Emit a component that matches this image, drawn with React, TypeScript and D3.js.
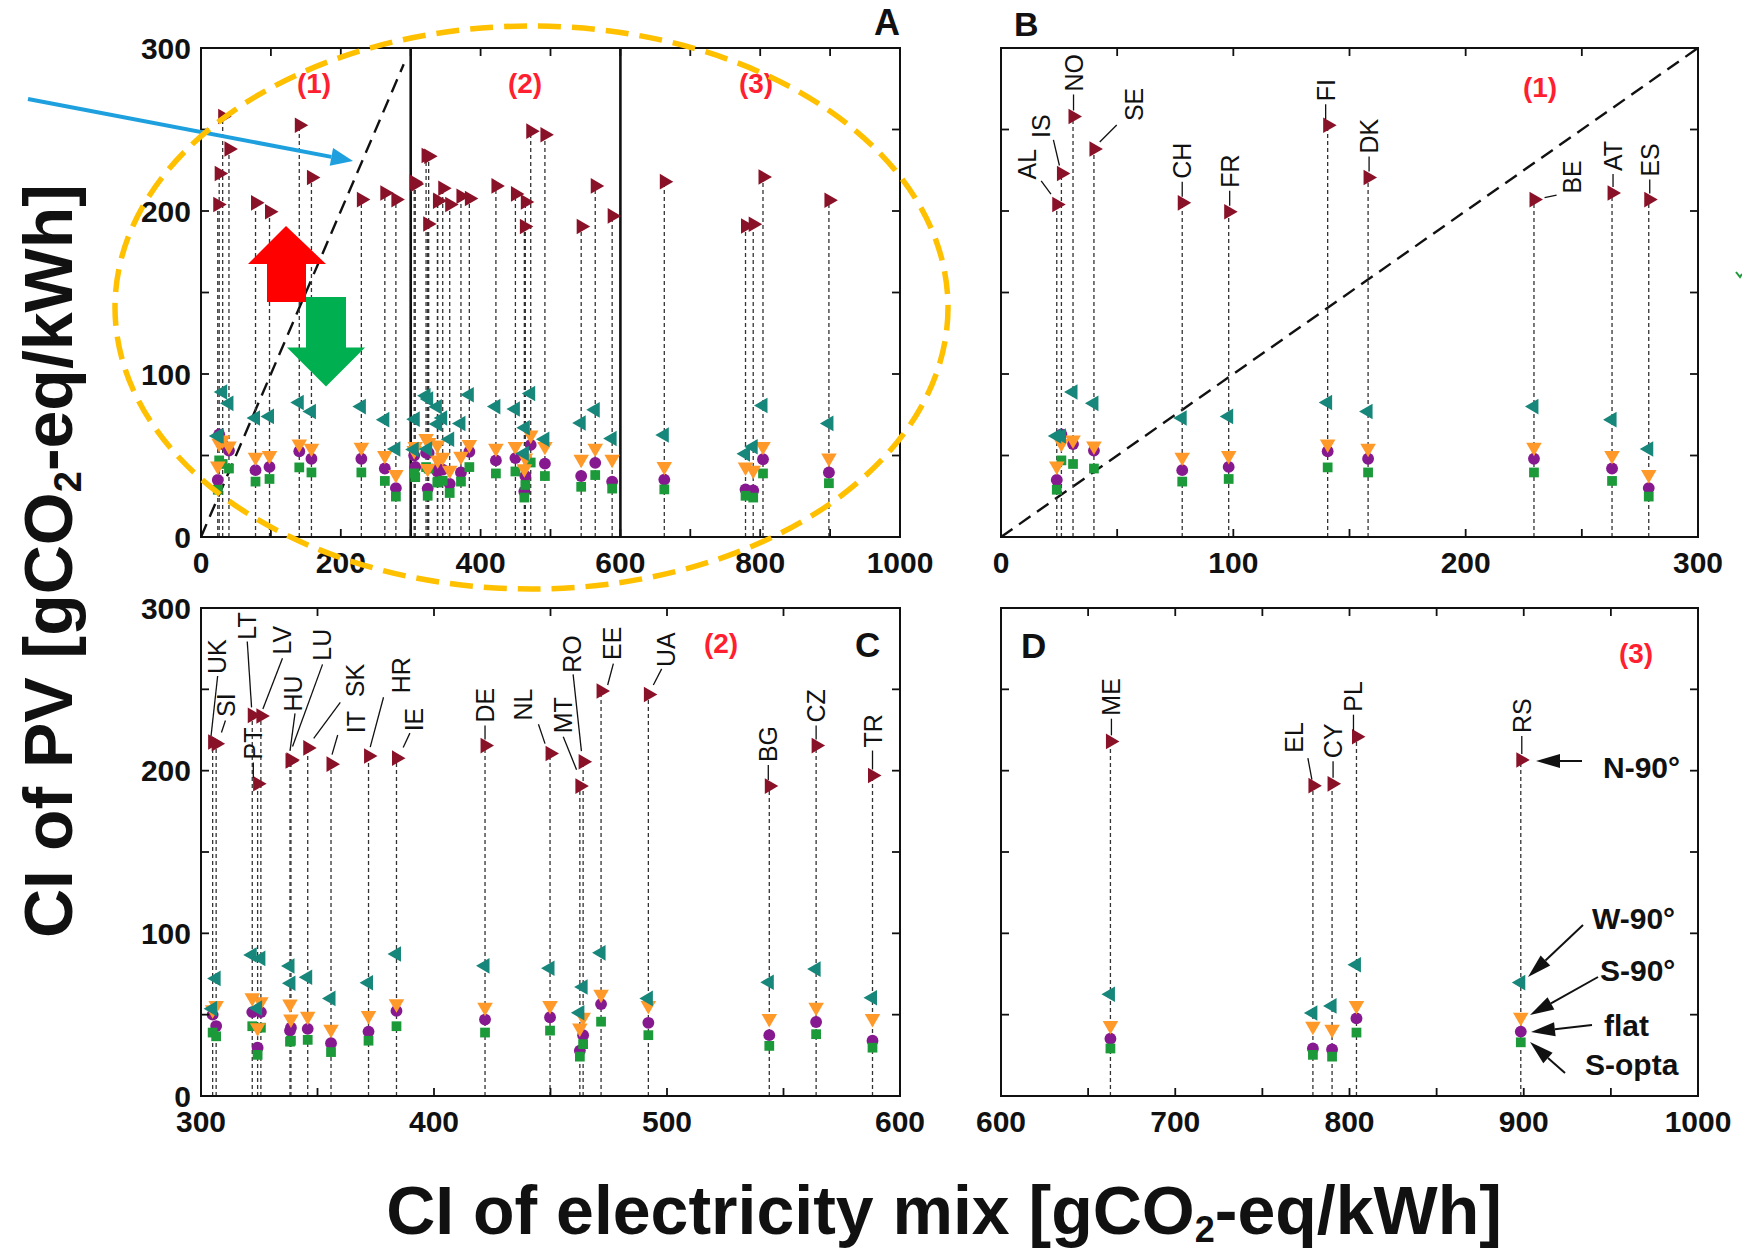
import React from "react";
import * as d3 from "d3";

// ---------------- DATA ----------------
const countries = ["AL","IS","NO","SE","CH","FR","FI","DK","BE","AT","ES",
  "UK","SI","LT","PT","LV","HU","LU","SK","IT","HR","IE","DE","NL","MT","RO","EE","UA","BG","CZ","TR",
  "ME","EL","CY","PL","RS"];
// CI of electricity mix [gCO2-eq/kWh]
const ciMix = [24,26,31,40,78,98,140.6,158,229.4,263,278.8,
  305,306.5,322,324.3,325.7,338.2,338.6,345.8,355.8,371.9,383.9,421.9,449.8,462.6,464,471.7,492,543.9,564,588.2,
  662.8,779,790,804,898.3];
// CI of PV for each orientation
const ciN90 = [204,223,258,238,205,199.5,252.6,220.5,207,211,207,
  217.6,216.5,234,192,233.6,206,206.5,214,204,209,207.7,215.4,210.5,190.5,205.5,249,246.8,190.5,215.4,197,
  218,190.8,191.9,220.9,206.6];
const ciW90 = [62,62,89,82,73,74,82.5,77,80,72,54,
  53.7,72.3,86.7,54,84.6,79.9,69.3,73,60,69.6,87.3,80,78.5,51.2,67,88,60,69.9,78,60.4,
  62.6,51,55.4,80.7,69.7];
const ciS90 = [43.5,57.5,59.5,55.8,49,50,57,54.5,55,50,38.4,
  53,55.6,60.4,42,58,56.5,47.3,49,41,49.5,56.7,54.5,55.6,41.8,48.4,62.6,55.6,47.7,54.5,47.7,
  43.3,42.9,41,55.6,48.4];
const ciFlat = [35,63,57,53,41,43,52.6,48,48,42,30,
  50,43,51.6,29.7,51.6,40.2,42,41.3,32.5,39.6,52.3,47,48.4,27.9,37.4,56.5,45,37.4,45.5,34,
  35.2,29.2,28.6,47.7,39.6];
const ciSOpta = [29,47,44.8,42,34,35.6,42.7,39.6,39.6,34.4,24.8,
  39,36.7,42.9,25.3,42,33.4,34,34.5,27,34,42.9,39,40.2,24.2,31.9,45.7,37.4,30.8,38,29.7,
  29.2,25.3,24.2,39,33];
const seriesNames = ["N-90°","W-90°","S-90°","flat","S-opta"];
const regionBounds = [0, 300, 600, 1000];
const regionNames = ["(1)","(2)","(3)"];
const yTickValues = [0, 100, 200, 300];

// ---------------- STYLE / LAYOUT ----------------
const FONT = "'Liberation Sans', Arial, Helvetica, sans-serif";
const seriesStyle: Record<string, { color: string; shape: string }> = {
  "N-90°": { color: "#8a1228", shape: "right" },
  "W-90°": { color: "#16877a", shape: "left" },
  "S-90°": { color: "#ff9a2a", shape: "down" },
  "flat": { color: "#86198f", shape: "circle" },
  "S-opta": { color: "#1c9a3a", shape: "square" },
};
const seriesValues: Record<string, number[]> = {
  [seriesNames[0]]: ciN90, [seriesNames[1]]: ciW90, [seriesNames[2]]: ciS90, [seriesNames[3]]: ciFlat, [seriesNames[4]]: ciSOpta,
};
const drawOrder = ["flat", "S-opta", "S-90°", "W-90°", "N-90°"];

const panels = [
  { id: "A", left: 201, right: 900, top: 48, bottom: 537, domain: [0, 1000], major: 200, minor: 100, yLabels: true, lo: 0, hi: 1001, labels: false },
  { id: "B", left: 1001, right: 1698, top: 48, bottom: 537, domain: [0, 300], major: 100, minor: 50, yLabels: false, lo: 0, hi: 300, labels: true },
  { id: "C", left: 201, right: 900, top: 608, bottom: 1096, domain: [300, 600], major: 100, minor: 50, yLabels: true, lo: 300, hi: 600, labels: true },
  { id: "D", left: 1001, right: 1698, top: 608, bottom: 1096, domain: [600, 1000], major: 100, minor: 50, yLabels: false, lo: 600, hi: 1001, labels: true },
];

// label offsets relative to the N-90° marker (px)
const labelLayout: Record<string, { tx: number; ty: number; leader?: number[] }> = {
  AL: { tx: -30, ty: -25, leader: [-15.6, -23.7, -5.8, -10.3] },
  IS: { tx: -20, ty: -35.6, leader: [-8, -33.7, -2, -8] },
  NO: { tx: 0.5, ty: -25 },
  SE: { tx: 40, ty: -28, leader: [22.8, -24, 5.8, -7] },
  CH: { tx: 0, ty: -24 },
  FR: { tx: 1, ty: -24 },
  FI: { tx: -2, ty: -24 },
  DK: { tx: 1, ty: -24 },
  BE: { tx: 37.6, ty: -6, leader: [10.6, -2, 22.6, -4.5] },
  AT: { tx: 1, ty: -22 },
  ES: { tx: 1, ty: -23 },
  UK: { tx: 4.7, ty: -68, leader: [5, -66, -1.6, -6] },
  SI: { tx: 10.3, ty: -26.8, leader: [9.3, -23.3, 5.3, -11.4] },
  LT: { tx: -5.7, ty: -75.7, leader: [-5, -73.9, -0.7, -8] },
  PT: { tx: -4.3, ty: -24.3 },
  LV: { tx: 21.3, ty: -61.4, leader: [21.6, -57.8, 2, -7] },
  HU: { tx: 3.3, ty: -49.4, leader: [5, -47.5, 0, -10] },
  LU: { tx: 31.3, ty: -99.4, leader: [31.6, -95.7, 1.6, -13.5] },
  SK: { tx: 47.6, ty: -50.6, leader: [32.6, -45.6, 6, -9.6] },
  IT: { tx: 25, ty: -31, leader: [6.7, -29.2, 1, -9.6] },
  HR: { tx: 32.5, ty: -62.8, leader: [15, -58.8, 1.7, -8.9] },
  IE: { tx: 17.7, ty: -26.8, leader: [13.4, -25, 6.7, -10.7] },
  DE: { tx: 0, ty: -23 },
  NL: { tx: -27.3, ty: -33, leader: [-11.6, -29.4, -5, -10] },
  MT: { tx: -17.3, ty: -52.8, leader: [-16.6, -49.4, -3.3, -16.4] },
  RO: { tx: -11, ty: -89, leader: [-10, -87.4, -1.7, -10.6] },
  EE: { tx: 11.3, ty: -31, leader: [12.3, -27.4, 6.6, -6] },
  UA: { tx: 17.5, ty: -27.5, leader: [13.3, -25.7, 5, -9.6] },
  BG: { tx: -1, ty: -24 },
  CZ: { tx: 0, ty: -23 },
  TR: { tx: 0, ty: -28 },
  ME: { tx: 1, ty: -25.7 },
  EL: { tx: -18.6, ty: -33, leader: [-5, -27.4, -1, -6] },
  CY: { tx: 1, ty: -25.7 },
  PL: { tx: -3, ty: -25 },
  RS: { tx: 1, ty: -27 },
};

const regionLabelPos: Record<string, { x: number; y: number; text: string }[]> = {
  A: [ { x: 314, y: 93, text: regionNames[0] }, { x: 525, y: 93, text: regionNames[1] }, { x: 756, y: 93, text: regionNames[2] } ],
  B: [ { x: 1540, y: 97, text: regionNames[0] } ],
  C: [ { x: 721, y: 653, text: regionNames[1] } ],
  D: [ { x: 1636, y: 663, text: regionNames[2] } ],
};
const panelLetterPos: Record<string, { x: number; y: number; anchor: string; size: number }> = {
  A: { x: 900, y: 35, anchor: "end", size: 36 },
  B: { x: 1014, y: 36, anchor: "start", size: 34 },
  C: { x: 855, y: 657, anchor: "start", size: 35 },
  D: { x: 1021, y: 658, anchor: "start", size: 35 },
};

const legendNotes = [
  { text: seriesNames[0], tx: 1603, ty: 767, x1: 1582, y1: 761, x2: 1536, y2: 761 },
  { text: seriesNames[1], tx: 1592, ty: 918, x1: 1583, y1: 925, x2: 1528, y2: 977 },
  { text: seriesNames[2], tx: 1600, ty: 970, x1: 1598, y1: 977, x2: 1530, y2: 1015 },
  { text: seriesNames[3], tx: 1604, ty: 1025, x1: 1592, y1: 1025, x2: 1531, y2: 1032 },
  { text: seriesNames[4], tx: 1585, ty: 1064, x1: 1565, y1: 1073, x2: 1530, y2: 1042 },
];

function arrowHead(x1: number, y1: number, x2: number, y2: number, len: number, hw: number) {
  const dx = x2 - x1, dy = y2 - y1;
  const L = Math.hypot(dx, dy);
  const ux = dx / L, uy = dy / L;
  const bx = x2 - ux * len, by = y2 - uy * len;
  const nx = -uy, ny = ux;
  return {
    base: [bx, by],
    pts: `${x2},${y2} ${bx + nx * hw},${by + ny * hw} ${bx - nx * hw},${by - ny * hw}`,
  };
}

function Arrow({ x1, y1, x2, y2, color, width, len, hw }: any) {
  const h = arrowHead(x1, y1, x2, y2, len, hw);
  return (
    <g>
      <line x1={x1} y1={y1} x2={h.base[0]} y2={h.base[1]} stroke={color} strokeWidth={width} />
      <polygon points={h.pts} fill={color} />
    </g>
  );
}

const symTri = d3.symbol().type(d3.symbolTriangle).size(105)() as string;
const symCircle = d3.symbol().type(d3.symbolCircle).size(110)() as string;
const symSquare = d3.symbol().type(d3.symbolSquare).size(95)() as string;

function Marker({ x, y, shape, color }: any) {
  if (shape === "circle") return <path d={symCircle} transform={`translate(${x},${y})`} fill={color} />;
  if (shape === "square") return <path d={symSquare} transform={`translate(${x},${y})`} fill={color} />;
  const rot = shape === "right" ? 90 : shape === "left" ? -90 : 180;
  return <path d={symTri} transform={`translate(${x},${y}) rotate(${rot})`} fill={color} />;
}

function Panel({ p }: any) {
  const x = d3.scaleLinear().domain(p.domain).range([p.left, p.right]);
  const y = d3.scaleLinear().domain([0, 300]).range([p.bottom, p.top]);
  const xTicks = d3.range(p.domain[0], p.domain[1] + 0.001, p.minor);
  const xMajor = d3.range(p.domain[0], p.domain[1] + 0.001, p.major);
  const yTicks = d3.range(0, 300.001, 50);
  const idx = countries.map((_, i) => i).filter((i) => ciMix[i] >= p.lo && ciMix[i] < p.hi);
  const TL = 8;
  return (
    <g>
      {p.id === "A" && (
        <line x1={x(0)} y1={y(0)} x2={x(290)} y2={y(290)} stroke="#111" strokeWidth={2.4} strokeDasharray="14,8" />
      )}
      {p.id === "B" && (
        <line x1={x(0)} y1={y(0)} x2={x(300)} y2={y(300)} stroke="#111" strokeWidth={2.4} strokeDasharray="14,8" />
      )}
      {p.id === "A" && regionBounds.slice(1, 3).map((b) => (
        <line key={b} x1={x(b)} x2={x(b)} y1={y(0)} y2={y(300)} stroke="#111" strokeWidth={2.6} />
      ))}
      {idx.map((i) => (
        <line key={"d" + i} x1={x(ciMix[i])} x2={x(ciMix[i])} y1={y(0)} y2={y(ciN90[i])}
          stroke="#333" strokeWidth={1.3} strokeDasharray="4,3" />
      ))}
      {drawOrder.map((s) =>
        idx.map((i) => (
          <Marker key={s + i} x={x(ciMix[i])} y={y(seriesValues[s][i])} shape={seriesStyle[s].shape} color={seriesStyle[s].color} />
        ))
      )}
      {p.labels && idx.map((i) => {
        const L = labelLayout[countries[i]];
        const mx = x(ciMix[i]), my = y(ciN90[i]);
        const ld = L.leader ? L.leader : [L.tx, -6, L.tx, L.ty + 3];
        return (
          <g key={"l" + i}>
            <line x1={mx + ld[0]} y1={my + ld[1]} x2={mx + ld[2]} y2={my + ld[3]} stroke="#111" strokeWidth={1.3} />
            <text transform={`translate(${mx + L.tx},${my + L.ty}) rotate(-90)`} fontFamily={FONT} fontSize={25}
              dominantBaseline="central" fill="#111">{countries[i]}</text>
          </g>
        );
      })}
      <rect x={p.left} y={p.top} width={p.right - p.left} height={p.bottom - p.top} fill="none" stroke="#111" strokeWidth={2} />
      {xTicks.map((t: number) => (
        <g key={"xt" + t}>
          <line x1={x(t)} x2={x(t)} y1={p.bottom} y2={p.bottom - TL} stroke="#111" strokeWidth={1.8} />
          <line x1={x(t)} x2={x(t)} y1={p.top} y2={p.top + TL} stroke="#111" strokeWidth={1.8} />
        </g>
      ))}
      {yTicks.map((t: number) => (
        <g key={"yt" + t}>
          <line x1={p.left} x2={p.left + TL} y1={y(t)} y2={y(t)} stroke="#111" strokeWidth={1.8} />
          <line x1={p.right} x2={p.right - TL} y1={y(t)} y2={y(t)} stroke="#111" strokeWidth={1.8} />
        </g>
      ))}
      {xMajor.map((t: number) => (
        <text key={"xl" + t} x={x(t)} y={p.bottom + 36} textAnchor="middle" fontFamily={FONT} fontWeight="bold" fontSize={30} fill="#111">{t}</text>
      ))}
      {p.yLabels && yTickValues.map((t) => (
        <text key={"yl" + t} x={p.left - 10} y={y(t) + 10.5} textAnchor="end" fontFamily={FONT} fontWeight="bold" fontSize={30} fill="#111">{t}</text>
      ))}
      {regionLabelPos[p.id].map((r, k) => (
        <text key={"r" + k} x={r.x} y={r.y} textAnchor="middle" fontFamily={FONT} fontWeight="bold" fontSize={28} fill="#ff1f30">{r.text}</text>
      ))}
      <text x={panelLetterPos[p.id].x} y={panelLetterPos[p.id].y} textAnchor={panelLetterPos[p.id].anchor} fontFamily={FONT}
        fontWeight="bold" fontSize={panelLetterPos[p.id].size} fill="#111">{p.id}</text>
    </g>
  );
}

export default function App() {
  return (
    <svg width={1742} height={1253} style={{ position: "absolute", left: 0, top: 0, background: "#fff" }}>
      <rect x={0} y={0} width={1742} height={1253} fill="#fff" />
      {panels.map((p) => <Panel key={p.id} p={p} />)}

      {legendNotes.map((n) => (
        <g key={n.text}>
          <Arrow x1={n.x1} y1={n.y1} x2={n.x2} y2={n.y2} color="#111" width={2} len={24} hw={7} />
          <text x={n.tx} y={n.ty} dominantBaseline="central" fontFamily={FONT} fontWeight="bold" fontSize={30} fill="#111">{n.text}</text>
        </g>
      ))}

      <text transform="translate(72,561) rotate(-90)" textAnchor="middle" fontFamily={FONT} fontWeight="bold" fontSize={68} fill="#111">
        CI of PV [gCO<tspan fontSize={38} dy={9}>2</tspan><tspan dy={-9}>-eq/kWh]</tspan>
      </text>
      <text x={944} y={1234} textAnchor="middle" fontFamily={FONT} fontWeight="bold" fontSize={68} fill="#111">
        CI of electricity mix [gCO<tspan fontSize={36} dy={8}>2</tspan><tspan dy={-8}>-eq/kWh]</tspan>
      </text>

      <polygon points="286,226 326,264 306,264 306,302 267,302 267,264 248,264" fill="#ff0000" />
      <polygon points="306,297 346,297 346,347.5 365,347.5 326,386.5 287,347.5 306,347.5" fill="#00b050" />
      <Arrow x1={28} y1={99} x2={353} y2={161} color="#1ea0df" width={4} len={22} hw={9} />
      <ellipse cx={531.5} cy={307.5} rx={416.5} ry={281.5} fill="none" stroke="#ffc000" strokeWidth={5.5} strokeDasharray="23,11" />
      <path d="M1736,272 L1740,277 L1742,274" fill="none" stroke="#1c9a3a" strokeWidth={2} />
    </svg>
  );
}
